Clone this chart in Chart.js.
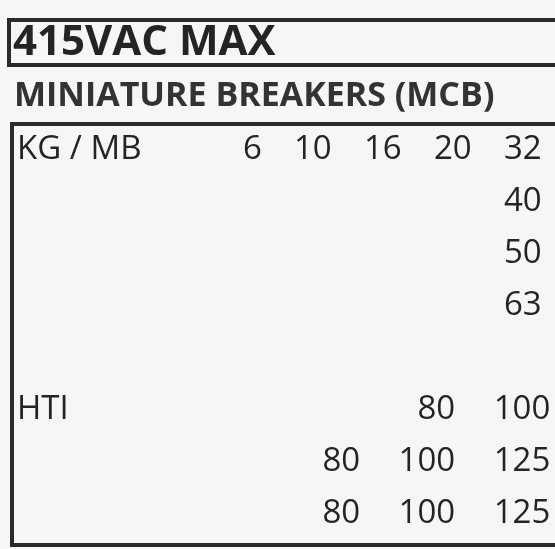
<!DOCTYPE html>
<html>
<head>
<meta charset="utf-8">
<script src="https://cdn.jsdelivr.net/npm/chart.js@4"></script>
<style>
  body { margin: 0; background: #f6f6f6; }
  canvas { display: block; }
</style>
</head>
<body>
<canvas id="mcb" width="555" height="549"></canvas>
<script>
// MCB ratings (column index, row index, text)
const mcbCols = [1, 2, 3, 4, 5, 5, 5, 5];
const mcbRows = [0, 0, 0, 0, 0, 1, 2, 3];
const mcbValues = ['6', '10', '16', '20', '32', '40', '50', '63'];

// HTI ratings
const htiCols = [2, 3, 1, 2, 3, 1, 2, 3];
const htiRows = [5, 5, 6, 6, 6, 7, 7, 7];
const htiValues = ['80', '100', '80', '100', '125', '80', '100', '125'];

const rowLabels = ['KG / MB', 'HTI'];
const rowLabelRows = [0, 5];

const ink = '#242424';

const tablePlugin = {
    id: 'tableText',
    beforeDraw(chart) {
        const c = chart.ctx;
        c.save();
        c.fillStyle = '#f6f6f6';
        c.fillRect(0, 0, chart.width, chart.height);
        c.strokeStyle = '#2a2a2a';
        c.lineWidth = 4;
        // title box
        c.beginPath();
        c.moveTo(555, 20); c.lineTo(9, 20); c.lineTo(9, 65); c.lineTo(555, 65);
        c.stroke();
        // table box
        c.beginPath();
        c.moveTo(555, 124); c.lineTo(12, 124); c.lineTo(12, 545); c.lineTo(555, 545);
        c.stroke();
        c.fillStyle = ink;
        c.textBaseline = 'middle';
        c.font = 'bold 42px "Open Sans", sans-serif';
        c.fillText('415VAC MAX', 13, 43);
        c.fillStyle = '#333';
        c.font = 'bold 34px "Open Sans", sans-serif';
        c.fillText('MINIATURE BREAKERS (MCB)', 14, 96);
        c.restore();
    },
    afterDatasetsDraw(chart) {
        const c = chart.ctx;
        c.save();
        c.fillStyle = ink;
        c.font = '33px "Open Sans", sans-serif';
        c.textBaseline = 'middle';
        const texts = [mcbValues, htiValues];
        chart.data.datasets.forEach((ds, i) => {
            chart.getDatasetMeta(i).data.forEach((pt, j) => {
                c.textAlign = 'right';
                c.fillText(texts[i][j], pt.x, pt.y);
            });
        });
        const ys = chart.scales.y;
        c.textAlign = 'left';
        rowLabels.forEach((lab, i) => {
            c.fillText(lab, 17, ys.getPixelForValue(rowLabelRows[i]));
        });
        c.restore();
    }
};

new Chart(document.getElementById('mcb').getContext('2d'), {
    type: 'scatter',
    data: {
        datasets: [
            {
                label: 'MCB',
                data: mcbValues.map((v, i) => ({ x: mcbCols[i], y: mcbRows[i] })),
                pointRadius: 0,
                xAxisID: 'x',
            },
            {
                label: 'HTI',
                data: htiValues.map((v, i) => ({ x: htiCols[i], y: htiRows[i] })),
                pointRadius: 0,
                xAxisID: 'x2',
            },
        ],
    },
    options: {
        responsive: false,
        animation: false,
        layout: { padding: 0 },
        plugins: { legend: { display: false }, tooltip: { enabled: false } },
        scales: {
            x: { type: 'linear', min: -2.74, max: 5.19, display: false },
            x2: { type: 'linear', min: -2.79, max: 3.05, display: false },
            y: { type: 'linear', min: -2.88, max: 7.68, reverse: true, display: false },
        },
    },
    plugins: [tablePlugin],
});
</script>
</body>
</html>
